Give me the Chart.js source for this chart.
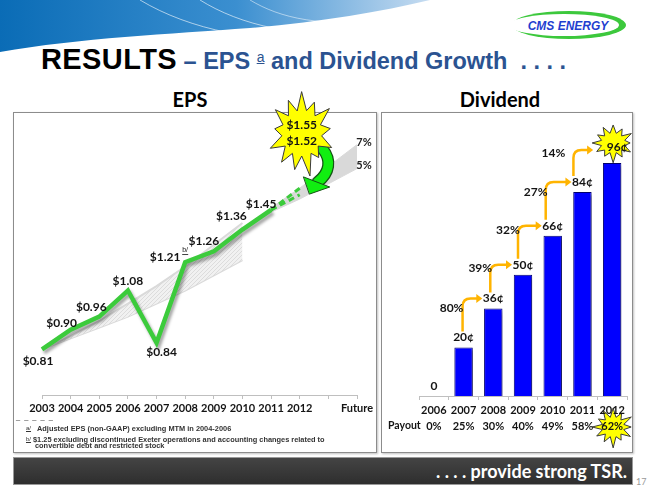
<!DOCTYPE html>
<html>
<head>
<meta charset="utf-8">
<title>Results - EPS and Dividend Growth</title>
<script src="https://cdn.jsdelivr.net/npm/chart.js@4.4.1/dist/chart.umd.min.js"></script>
<style>
  html, body { margin: 0; padding: 0; background: #fff; }
  #slide { position: relative; width: 655px; height: 491px; overflow: hidden; font-family: Lato, "Liberation Sans", sans-serif; }
  #swoosh { position: absolute; left: 0; top: 0; }
  #title { position: absolute; left: 41px; top: 44px; white-space: nowrap; font-family: "Liberation Sans", Arial, sans-serif; font-weight: bold; line-height: 30px; }
  #title .big { font-size: 29px; color: #000; letter-spacing: 0.4px; }
  #title .sub { font-size: 23.5px; color: #2B5391; }
  #title .supa { font-size: 14px; text-decoration: underline; position: relative; top: -7px; font-weight: normal; }
  .box { position: absolute; border: 1px solid #8c8c8c; box-shadow: 1px 1px 2px rgba(0,0,0,0.25); background: #fff; }
  #epsBox { left: 13px; top: 112px; width: 362px; height: 339px; }
  #divBox { left: 381px; top: 112px; width: 250px; height: 339px; }
  .hdr { position: absolute; top: 87px; font-weight: bold; font-size: 20px; color: #000; text-align: center; }
  #epsHdr { left: 140px; width: 100px; }
  #divHdr { left: 450px; width: 100px; }
  canvas { position: absolute; }
  #epsChart { left: 13px; top: 88px; }
  #divChart { left: 382px; top: 88px; }
  #notes { position: absolute; left: 16px; top: 414px; font-family: "Liberation Sans", Arial, sans-serif; font-weight: bold; font-size: 7.4px; color: #333; }
  #notes div { white-space: nowrap; }
  #notes .mk { display: inline-block; width: 11px; font-size: 6px; font-weight: normal; text-decoration: underline; vertical-align: 1px; }
  #tsr { position: absolute; left: 13px; top: 457px; width: 620px; height: 28px; background: linear-gradient(#444, #2e2e2e); border: 1px solid #999; box-sizing: border-box; color: #fff; font-weight: bold; font-size: 18px; text-align: right; line-height: 26px; padding-right: 5px; }
  #pageNo { position: absolute; left: 636px; top: 476px; font-size: 9px; color: #999; }
</style>
</head>
<body>
<div id="slide">
  <svg id="swoosh" width="655" height="60">
    <defs>
      <linearGradient id="blueGrad" x1="0" y1="0" x2="1" y2="0">
        <stop offset="0" stop-color="#0a6cb6"/>
        <stop offset="0.55" stop-color="#3b8fd0"/>
        <stop offset="1" stop-color="#c6dcf1"/>
      </linearGradient>
    </defs>
    <path d="M0,0 H430 C380,12 320,22 250,28 C170,34 80,38 0,52 Z" fill="url(#blueGrad)"/>
    <path d="M140,0 C190,30 260,44 330,38" fill="none" stroke="#fff" stroke-opacity="0.6" stroke-width="1"/>
    <path d="M200,0 C240,25 300,40 370,30" fill="none" stroke="#fff" stroke-opacity="0.6" stroke-width="1"/>
    <path d="M250,0 C280,18 320,28 400,20" fill="none" stroke="#fff" stroke-opacity="0.5" stroke-width="1"/>
    <ellipse cx="569" cy="25" rx="57" ry="14" fill="#3cc83c"/>
    <ellipse cx="564" cy="25" rx="55" ry="11" fill="#fff"/>
    <text x="568" y="30" text-anchor="middle" font-family="Liberation Sans, Arial, sans-serif" font-weight="bold" font-style="italic" font-size="12" fill="#1f3fcf">CMS ENERGY</text>
  </svg>

  <div id="title"><span class="big">RESULTS</span><span class="sub"> – EPS <span class="supa">a</span> and Dividend Growth&nbsp; . . . .</span></div>

  <div class="box" id="epsBox"></div>
  <div class="box" id="divBox"></div>
  <div class="hdr" id="epsHdr">EPS</div>
  <div class="hdr" id="divHdr">Dividend</div>

  <canvas id="epsChart" width="367" height="332"></canvas>
  <canvas id="divChart" width="273" height="372"></canvas>

  <div id="notes">
    <div style="letter-spacing:1px;font-weight:normal;line-height:6px">_ _ _ _ _</div>
    <div style="margin-top:4px;padding-left:10px"><span class="mk">a/</span>Adjusted EPS (non-GAAP) excluding MTM in 2004-2006</div>
    <div style="margin-top:3px;line-height:7px;padding-left:10px"><span class="mk" style="width:7px">b/</span>$1.25 excluding discontinued Exeter operations and accounting changes related to</div>
    <div style="line-height:6px;padding-left:19px">convertible debt and restricted stock</div>
  </div>

  <div id="tsr">. . . . provide strong TSR.</div>
  <div id="pageNo">17</div>
</div>

<script>
// ---- EPS data ----
var epsYears    = ['2003','2004','2005','2006','2007','2008','2009','2010','2011','2012','','Future'];
var epsValues   = [0.81, 0.90, 0.96, 1.08, 0.84, 1.21, 1.26, 1.36, 1.45, null, null, null];
var epsGuideHi  = [null, null, null, null, null, null, null, null, 1.45, 1.55, null, null];
var epsGuideLo  = [null, null, null, null, null, null, null, null, 1.45, 1.52, null, null];
var band8pct    = [0.81, 0.87, 0.94, 1.02, 1.10, 1.19, 1.29, 1.39, null, null, null, null];
var band6pct    = [0.81, 0.86, 0.91, 0.96, 1.02, 1.08, 1.15, 1.22, null, null, null, null];
var band7pct    = [null, null, null, null, null, null, null, null, 1.46, 1.55, 1.65, 1.75];
var band5pct    = [null, null, null, null, null, null, null, null, 1.44, 1.50, 1.57, 1.64];
var bandTags    = ['7%', '5%'];
var guideTags   = ['$1.55', '$1.52'];

// ---- Dividend data ----
var divYears    = ['2006','2007','2008','2009','2010','2011','2012'];
var divCents    = [0, 20, 36, 50, 66, 84, 96];
var divGrowth   = ['80%','39%','32%','27%','14%'];
var payout      = ['0%','25%','30%','40%','49%','58%','62%'];

// label nudges (pixels), style only
var epsNudge    = [[-4,12],[-9,-7],[-8,-10],[0,-9],[5,9],[-20,-5],[-10,-10],[-11,-13],[-10,-6]];
var growthNudge = [[-12,0],[-13,-7],[-15,-6],[-17,0],[-29,-10]];

var green = '#3ccb3c';
var labelFont = 'bold 12px Lato, "Liberation Sans", sans-serif';

function hatch(){
    var c = document.createElement('canvas');
    c.width = 4; c.height = 4;
    var g = c.getContext('2d');
    g.fillStyle = '#f1f1f1';
    g.fillRect(0, 0, 4, 4);
    g.strokeStyle = '#dcdcdc';
    g.lineWidth = 1;
    g.beginPath();
    g.moveTo(0, 4); g.lineTo(4, 0);
    g.stroke();
    return g.createPattern(c, 'repeat');
}

function starPath(ctx, cx, cy, rx, ry, irx, iry, spikes, jitter){
    ctx.beginPath();
    for (var i = 0; i < spikes * 2; i++){
        var a = -Math.PI / 2 + i * Math.PI / spikes;
        var f = (i % 2 === 0) ? jitter[(i / 2) % jitter.length] : 1;
        var px = (i % 2 === 0 ? rx : irx) * f;
        var py = (i % 2 === 0 ? ry : iry) * f;
        var x = cx + Math.cos(a) * px, y = cy + Math.sin(a) * py;
        if (i === 0) ctx.moveTo(x, y); else ctx.lineTo(x, y);
    }
    ctx.closePath();
    ctx.fillStyle = '#ffff00';
    ctx.fill();
    ctx.strokeStyle = '#3a3a3a';
    ctx.lineWidth = 1;
    ctx.stroke();
}

var shadowPlugin = {
    id: 'shadow',
    beforeDatasetDraw: function(chart, args){
        if (!chart.data.datasets[args.index].shadow) return;
        var ctx = chart.ctx;
        ctx.save();
        ctx.shadowColor = 'rgba(0,0,0,0.35)';
        ctx.shadowBlur = 3;
        ctx.shadowOffsetX = 2;
        ctx.shadowOffsetY = 3;
    },
    afterDatasetDraw: function(chart, args){
        if (chart.data.datasets[args.index].shadow) chart.ctx.restore();
    }
};

var epsDecor = {
    id: 'epsDecor',
    afterDatasetsDraw: function(chart){
        var ctx = chart.ctx, xs = chart.scales.x, ys = chart.scales.y;
        ctx.save();
        ctx.font = labelFont;
        ctx.fillStyle = '#141414';
        ctx.textAlign = 'center';
        ctx.textBaseline = 'middle';
        epsValues.forEach(function(v, i){
            if (v === null) return;
            var px = xs.getPixelForValue(i) + epsNudge[i][0];
            var py = ys.getPixelForValue(v) + epsNudge[i][1];
            ctx.fillText('$' + v.toFixed(2), px, py);
            if (i === 5){
                ctx.save();
                ctx.font = '7px "Liberation Sans", sans-serif';
                ctx.textAlign = 'left';
                ctx.fillText('b/', px + 17, py - 7);
                ctx.fillRect(px + 17, py - 3, 6, 0.8);
                ctx.restore();
            }
        });

        // growth band tags
        ctx.font = 'bold 11px Lato, sans-serif';
        ctx.fillStyle = '#222';
        var last = epsYears.length - 1;
        var fx = xs.getPixelForValue(last) + 7;
        ctx.fillText(bandTags[0], fx, ys.getPixelForValue(band7pct[last]) - 2);
        ctx.fillText(bandTags[1], fx, ys.getPixelForValue(band5pct[last]) - 3);

        // guidance starburst with arrow
        var cx = xs.getPixelForValue(9) + 2;
        var cy = chart.chartArea.top + 21;
        ctx.lineCap = 'round';
        ctx.beginPath();
        ctx.moveTo(cx + 21, cy + 16);
        ctx.bezierCurveTo(cx + 30, cy + 27, cx + 28, cy + 40, cx + 16, cy + 49);
        ctx.strokeStyle = '#145214';
        ctx.lineWidth = 12;
        ctx.stroke();
        ctx.strokeStyle = '#11ee11';
        ctx.lineWidth = 9.5;
        ctx.stroke();
        ctx.beginPath();
        ctx.moveTo(cx + 2, cy + 44);
        ctx.lineTo(cx + 28, cy + 54);
        ctx.lineTo(cx + 8, cy + 61);
        ctx.closePath();
        ctx.fillStyle = '#11ee11';
        ctx.fill();
        ctx.strokeStyle = '#145214';
        ctx.lineWidth = 1;
        ctx.stroke();

        starPath(ctx, cx, cy, 32, 41, 20, 23, 13, [1, 0.85, 1.05, 0.9, 1, 0.8, 1.08, 0.92, 0.95, 1.05, 0.85, 1, 0.9]);
        ctx.font = labelFont;
        ctx.fillStyle = '#141414';
        ctx.fillText(guideTags[0], cx, cy - 8);
        ctx.fillText(guideTags[1], cx, cy + 8);
        ctx.restore();
    }
};

var epsCtx = document.getElementById('epsChart');
var epsChart = new Chart(epsCtx, {
    type: 'line',
    data: {
        labels: epsYears,
        datasets: [
            { data: epsValues, borderColor: green, borderWidth: 4.5, pointRadius: 0, shadow: true, order: 0 },
            { data: epsGuideHi, borderColor: green, borderWidth: 3, borderDash: [6, 4], pointRadius: 0, order: 1 },
            { data: epsGuideLo, borderColor: green, borderWidth: 3, borderDash: [6, 4], pointRadius: 0, order: 1 },
            { data: band8pct, borderColor: '#dadada', borderWidth: 2, pointRadius: 0, backgroundColor: hatch(), fill: '+1', order: 5 },
            { data: band6pct, borderColor: '#dadada', borderWidth: 2, pointRadius: 0, fill: false, order: 5 },
            { data: band7pct, borderColor: '#d9d9d9', borderWidth: 1, pointRadius: 0, backgroundColor: '#d9d9d9', fill: '+1', order: 5 },
            { data: band5pct, borderColor: '#d9d9d9', borderWidth: 1, pointRadius: 0, fill: false, order: 5 }
        ]
    },
    options: {
        responsive: false,
        animation: false,
        layout: { padding: { left: 29, right: 23, top: 24, bottom: 0 } },
        plugins: { legend: { display: false }, tooltip: { enabled: false } },
        elements: { line: { tension: 0 } },
        scales: {
            x: {
                offset: false,
                border: { display: true, color: '#bfbfbf' },
                grid: { drawOnChartArea: false, drawTicks: true, tickLength: 4, color: '#bfbfbf' },
                ticks: { autoSkip: false, maxRotation: 0, padding: 3, color: '#141414', font: { family: 'Lato', weight: 'bold', size: 11 } },
                afterFit: function(scale){ scale.height = 25; }
            },
            y: { display: false, min: 0.6, max: 1.9 }
        }
    },
    plugins: [shadowPlugin, epsDecor]
});

var divDecor = {
    id: 'divDecor',
    beforeDraw: function(chart){
        var ctx = chart.ctx, xs = chart.scales.x;
        if (!xs) return;
        ctx.save();
        starPath(ctx, xs.getPixelForValue(6) + 1, chart.chartArea.bottom + 31, 20, 19, 11, 10, 12, [1, 0.85, 1.05, 0.9, 1, 0.8, 1.1, 0.9, 0.95, 1.05, 0.85, 1]);
        ctx.restore();
    },
    afterDatasetsDraw: function(chart){
        var ctx = chart.ctx, xs = chart.scales.x, ys = chart.scales.y;
        ctx.save();
        var n = divCents.length - 1;
        starPath(ctx, xs.getPixelForValue(n) + 1, ys.getPixelForValue(divCents[n]) - 20, 20, 18, 12, 10, 12, [1, 0.9, 1.05, 0.85, 1, 0.9, 1.1, 0.85, 0.95, 1.05, 0.9, 1]);

        ctx.font = labelFont;
        ctx.fillStyle = '#141414';
        ctx.textAlign = 'center';
        ctx.textBaseline = 'middle';
        var labelY = [];
        divCents.forEach(function(v, i){
            var px = xs.getPixelForValue(i);
            var py = ys.getPixelForValue(v) - (i === n ? 16 : 10);
            labelY.push(py);
            ctx.fillText(v === 0 ? '0' : v + '¢', px + (i === n ? 5 : 0), py);
        });

        // growth arrows and percentages
        divGrowth.forEach(function(g, k){
            var prev = k + 1, next = k + 2;
            var x0 = xs.getPixelForValue(prev) - 1 - k * 2;
            var y0 = labelY[prev] - 6;
            var y1 = labelY[next] + (next === n ? 3 : 0);
            var tip = xs.getPixelForValue(next) - (next === n ? 19 : 11);
            ctx.beginPath();
            ctx.moveTo(x0, y0);
            ctx.lineTo(x0, y1 + 8);
            ctx.quadraticCurveTo(x0, y1, x0 + 8, y1);
            ctx.lineTo(tip - 4, y1);
            ctx.strokeStyle = '#ffb400';
            ctx.lineWidth = 2.5;
            ctx.stroke();
            ctx.beginPath();
            ctx.moveTo(tip, y1);
            ctx.lineTo(tip - 6, y1 - 4.5);
            ctx.lineTo(tip - 6, y1 + 4.5);
            ctx.closePath();
            ctx.fillStyle = '#ffb400';
            ctx.fill();
            ctx.fillStyle = '#141414';
            ctx.fillText(g, xs.getPixelForValue(prev) + growthNudge[k][0], ys.getPixelForValue(divCents[next]) + growthNudge[k][1]);
        });

        // payout row title
        ctx.textAlign = 'left';
        ctx.font = 'bold 10.5px Lato, sans-serif';
        ctx.fillText('Payout', 6, chart.chartArea.bottom + 30);
        ctx.restore();
    }
};

var divCtx = document.getElementById('divChart');
var divChart = new Chart(divCtx, {
    type: 'bar',
    data: {
        labels: divYears,
        datasets: [{
            data: divCents,
            backgroundColor: '#0000ff',
            borderColor: '#00006e',
            borderWidth: 1,
            categoryPercentage: 1,
            barPercentage: 0.62,
            shadow: true
        }]
    },
    options: {
        responsive: false,
        animation: false,
        layout: { padding: { left: 37, right: 28, top: 24, bottom: 0 } },
        plugins: { legend: { display: false }, tooltip: { enabled: false } },
        scales: {
            x: {
                border: { display: true, color: '#bfbfbf' },
                grid: { drawOnChartArea: false, drawTicks: true, tickLength: 4, color: '#bfbfbf' },
                ticks: {
                    autoSkip: false, maxRotation: 0, padding: 3, color: '#141414',
                    font: { family: 'Lato', weight: 'bold', size: 11, lineHeight: 1.4 },
                    callback: function(v, i){ return [divYears[i], payout[i]]; }
                },
                afterFit: function(scale){ scale.height = 64; }
            },
            y: { display: false, min: 0, max: 117 }
        }
    },
    plugins: [shadowPlugin, divDecor]
});
</script>
</body>
</html>
